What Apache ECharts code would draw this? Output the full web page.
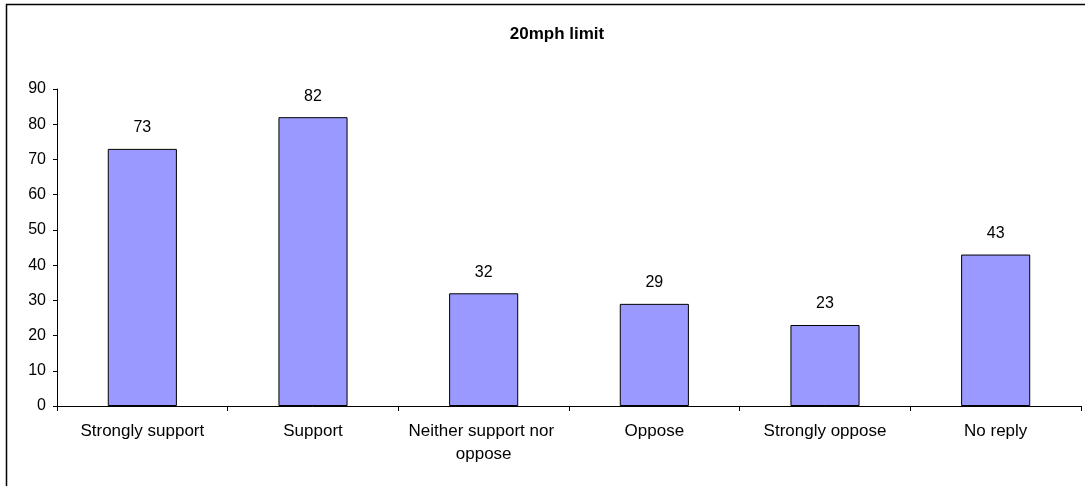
<!DOCTYPE html>
<html>
<head>
<meta charset="utf-8">
<script src="https://cdn.jsdelivr.net/npm/echarts@6/dist/echarts.min.js"></script>
<style>
  body { margin: 0; padding: 0; background: #fff; }
  #chart { width: 1085px; height: 486px; }
</style>
</head>
<body>
<div id="chart"></div>
<script>
// 数据
const categories = ["Strongly support", "Support", "Neither support nor oppose", "Oppose", "Strongly oppose", "No reply"];
const counts = [73, 82, 32, 29, 23, 43];
const yTicks = { min: 0, max: 90, interval: 10 };

const chart = echarts.init(document.getElementById("chart"));
const font = "Liberation Sans, Arial, sans-serif";

const option = {
  animation: false,
  backgroundColor: "#fff",
  textStyle: { fontFamily: font },
  title: {
    text: "20mph limit",
    left: 552,
    top: 21,
    textAlign: "center",
    textStyle: { fontFamily: font, fontSize: 17, fontWeight: "bold", color: "#000" },
  },
  graphic: [
    {
      type: "rect",
      shape: { x: 6.5, y: 4.5, width: 1200, height: 600 },
      style: { fill: null, stroke: "#000", lineWidth: 1.5 },
      silent: true,
    },
  ],
  grid: { left: 57, right: 4, top: 89, bottom: 80, containLabel: false },
  xAxis: {
    type: "category",
    data: categories,
    axisLine: { lineStyle: { color: "#000", width: 1 } },
    axisTick: { show: true, length: 5, lineStyle: { color: "#000" } },
    axisLabel: {
      color: "#000",
      fontSize: 17,
      margin: 14,
      width: 160,
      overflow: "break",
      lineHeight: 23,
      interval: 0,
    },
  },
  yAxis: {
    type: "value",
    min: yTicks.min,
    max: yTicks.max,
    interval: yTicks.interval,
    axisLine: { show: true, lineStyle: { color: "#000", width: 1 } },
    axisTick: { show: true, length: 4, lineStyle: { color: "#000" } },
    splitLine: { show: false },
    axisLabel: { color: "#000", fontSize: 16, margin: 11 },
  },
  series: [
    {
      type: "bar",
      data: counts,
      barWidth: "40.5%",
      itemStyle: { color: "#9999FF", borderColor: "#000", borderWidth: 1 },
      label: {
        show: true,
        position: "top",
        distance: 13,
        color: "#000",
        fontSize: 16,
      },
    },
  ],
};

chart.setOption(option);
</script>
</body>
</html>
